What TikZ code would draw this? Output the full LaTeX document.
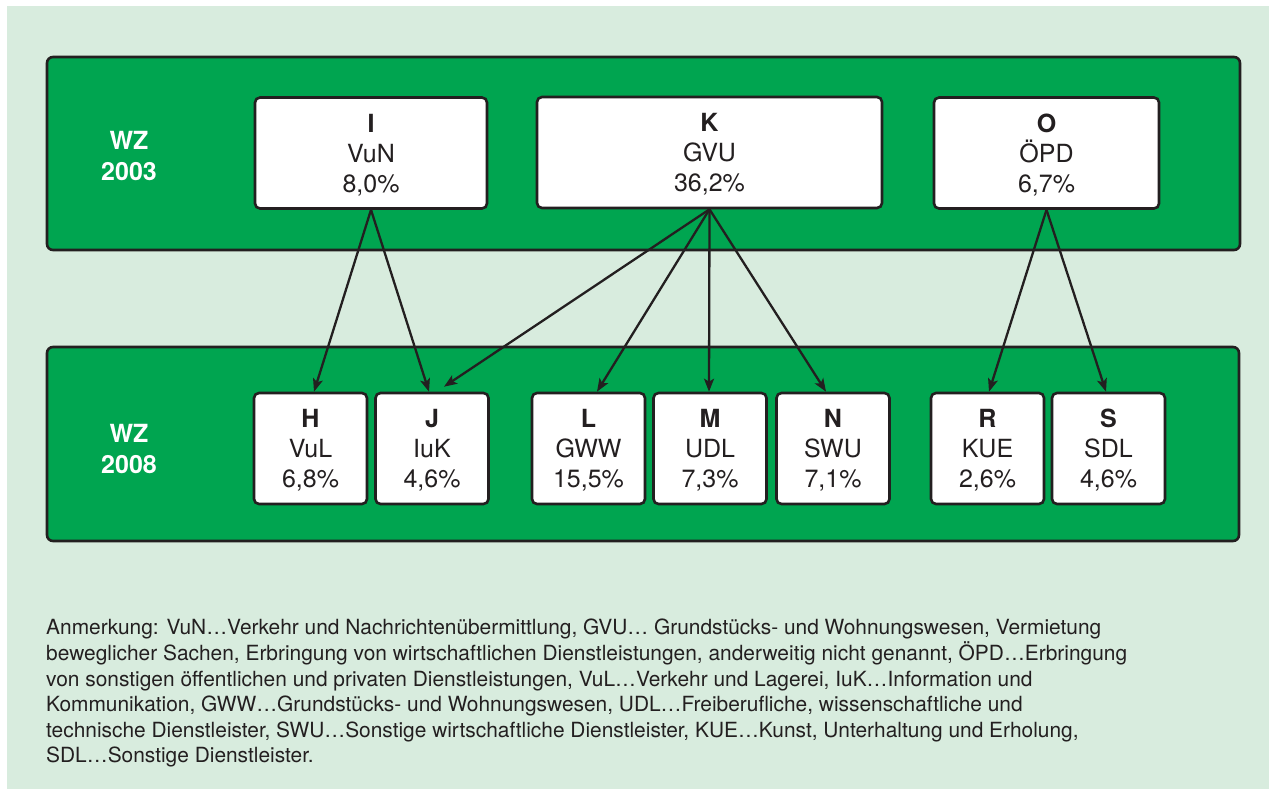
\documentclass[tikz,border=0pt]{standalone}
\usepackage{fontspec}
\setmainfont{TeX Gyre Heros}
\usetikzlibrary{arrows.meta}
\definecolor{bglight}{RGB}{216,236,222}
\definecolor{dgreen}{RGB}{0,165,80}
\definecolor{ink}{RGB}{35,31,32}
\tikzset{
  panel/.style={draw=ink, line width=2.6pt, fill=dgreen, rounded corners=6pt},
  topbox/.style={draw=ink, line width=2.6pt, fill=white, rounded corners=5pt,
    minimum height=111pt, inner sep=0pt, align=center, text=ink, text depth=0pt,
    font=\fontsize{25}{30}\selectfont},
  botbox/.style={topbox, minimum width=113pt},
  wzlabel/.style={text=white, align=center, inner sep=0pt, text depth=0pt,
    font=\fontsize{25}{31}\selectfont\bfseries},
  conn/.style={draw=ink, line width=2.3pt, -{Stealth[length=13pt,width=10pt,inset=3pt]}},
  notetext/.style={text=ink, align=left, inner sep=0pt,
    font=\fontsize{20.9}{25.6}\selectfont}
}
\begin{document}
\begin{tikzpicture}[x=1pt,y=-1pt]
\useasboundingbox (0,0) rectangle (1269,789);
\fill[white] (0,0) rectangle (1269,789);
\fill[bglight] (7,6) rectangle (1269,789);

% panels
\path[panel] (47,57) rectangle (1240,250);
\path[panel] (47,347) rectangle (1239,541);

\node[wzlabel] (wz03) at (129,156) {WZ\\2003};
\node[wzlabel] (wz08) at (129,449) {WZ\\2008};

% WZ 2003 boxes
\node[topbox, minimum width=232pt] (I) at (371,153) {\textbf{I}\\VuN\\8,0\%};
\node[topbox, minimum width=345pt] (K) at (709.5,152.5) {\textbf{K}\\GVU\\36,2\%};
\node[topbox, minimum width=225pt] (O) at (1046.5,153) {\textbf{O}\\ÖPD\\6,7\%};

% WZ 2008 boxes
\node[botbox] (H) at (310.5,448.5) {\textbf{H}\\VuL\\6,8\%};
\node[botbox] (J) at (432,448.5) {\textbf{J}\\IuK\\4,6\%};
\node[botbox] (L) at (588.5,448.5) {\textbf{L}\\GWW\\15,5\%};
\node[botbox] (M) at (710,448.5) {\textbf{M}\\UDL\\7,3\%};
\node[botbox] (N) at (833,448.5) {\textbf{N}\\SWU\\7,1\%};
\node[botbox] (R) at (987.5,448.5) {\textbf{R}\\KUE\\2,6\%};
\node[botbox] (S) at (1108.5,448.5) {\textbf{S}\\SDL\\4,6\%};

% connectors
\draw[conn] (I.south) -- ([xshift=3.5pt]H.north);
\draw[conn] (I.south) -- ([xshift=-3pt]J.north);
\draw[conn] (K.south) -- ([xshift=12pt,yshift=5pt]J.north);
\draw[conn] (K.south) -- ([xshift=8.5pt]L.north);
\draw[conn] (K.south) -- ([xshift=-1pt]M.north);
\draw[conn] (K.south) -- ([xshift=-7pt]N.north);
\draw[conn] (O.south) -- ([xshift=1.5pt]R.north);
\draw[conn] (O.south) -- ([xshift=-2.5pt]S.north);

% note
\node[notetext, anchor=north west] (note) at (46,619) {Anmerkung: VuN…Verkehr und Nachrichtenübermittlung, GVU… Grundstücks- und Wohnungswesen, Vermietung\\
beweglicher Sachen, Erbringung von wirtschaftlichen Dienstleistungen, anderweitig nicht genannt, ÖPD…Erbringung\\
von sonstigen öffentlichen und privaten Dienstleistungen, VuL…Verkehr und Lagerei, IuK…Information und\\
Kommunikation, GWW…Grundstücks- und Wohnungswesen, UDL…Freiberufliche, wissenschaftliche und\\
technische Dienstleister, SWU…Sonstige wirtschaftliche Dienstleister, KUE…Kunst, Unterhaltung und Erholung,\\
SDL…Sonstige Dienstleister.};
\end{tikzpicture}
\end{document}
